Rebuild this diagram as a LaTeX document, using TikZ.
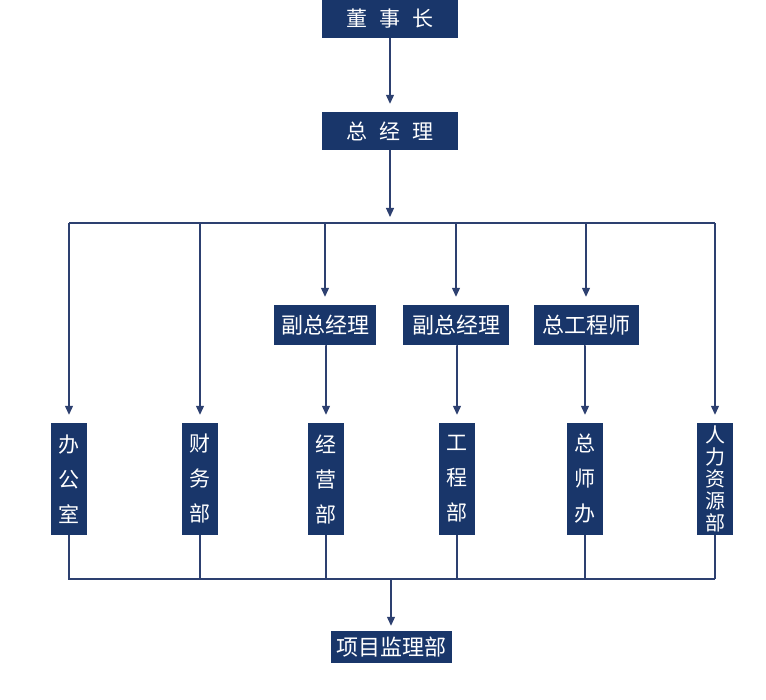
\documentclass[tikz,border=0pt]{standalone}
\usepackage{fontspec}
\setmainfont{Noto Sans CJK SC}
\usetikzlibrary{arrows.meta}
\definecolor{navy}{RGB}{25,54,106}
\definecolor{linecol}{RGB}{45,64,112}
\begin{document}
\begin{tikzpicture}[x=1pt,y=-1pt,
 box/.style={fill=navy,text=white,inner sep=0pt,font=\fontsize{21}{21}\selectfont},
 hbox/.style={box,minimum height=40pt,font=\fontsize{22}{22}\selectfont},
 vbox/.style={box,minimum width=36pt,minimum height=112pt,align=center,font=\fontsize{21}{35}\selectfont},
 link/.style={draw=linecol,line width=1.2pt},
 arr/.style={link,-{Triangle[length=9pt,width=8pt]},shorten >=8pt}]
 \useasboundingbox (0,0) rectangle (766,700);
 % top
 \node[box,minimum width=136pt,minimum height=38pt] (dsz) at (390,19) {董\hspace{12pt}事\hspace{12pt}长};
 \node[box,minimum width=136pt,minimum height=38pt] (zjl) at (390,131) {总\hspace{12pt}经\hspace{12pt}理};
 \coordinate (top) at (390,223);
 \coordinate (bot) at (391,579);
 % middle
 \node[hbox,minimum width=102pt] (fz1) at (325,325) {副总经理};
 \node[hbox,minimum width=106pt] (fz2) at (456,325) {副总经理};
 \node[hbox,minimum width=105pt] (zgcs) at (586,325) {总工程师};
 % departments
 \node[vbox] (bgs) at (69,479) {办\\公\\室};
 \node[vbox] (cwb) at (200,479) {财\\务\\部};
 \node[vbox] (jyb) at (326,479) {经\\营\\部};
 \node[vbox] (gcb) at (457,479) {工\\程\\部};
 \node[vbox] (zsb) at (585,479) {总\\师\\办};
 \node[vbox,font=\fontsize{20}{22}\selectfont] (rlb) at (715,479) {人\\力\\资\\源\\部};
 \node[box,minimum width=121pt,minimum height=32pt,font=\fontsize{22}{22}\selectfont] (xmb) at (391,647) {项目监理部};
 % connectors
 \draw[arr] (dsz) -- (zjl);
 \draw[arr,shorten >=6pt] (zjl) -- (top);
 \draw[link] (bgs.north |- top) -- (rlb.north |- top);
 \foreach \n in {bgs,cwb,rlb} \draw[arr] (\n.north |- top) -- (\n);
 \foreach \n in {fz1,fz2,zgcs} \draw[arr] (\n.north |- top) -- (\n);
 \draw[arr] (fz1) -- (jyb.north |- fz1.south) -- (jyb);
 \draw[arr] (fz2) -- (gcb.north |- fz2.south) -- (gcb);
 \draw[arr] (zgcs) -- (zsb.north |- zgcs.south) -- (zsb);
 \draw[link] (bgs) |- (rlb.south |- bot);
 \foreach \n in {cwb,jyb,gcb,zsb,rlb} \draw[link] (\n) -- (\n |- bot);
 \draw[arr,shorten >=5pt] (bot) -- (xmb);
\end{tikzpicture}
\end{document}
